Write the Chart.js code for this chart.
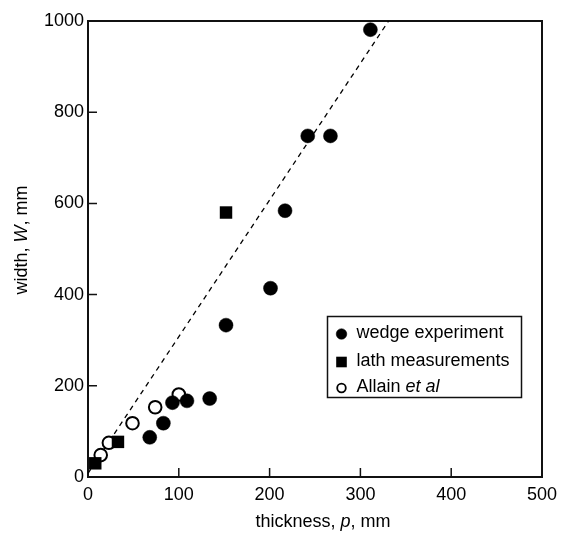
<!DOCTYPE html>
<html>
<head>
<meta charset="utf-8">
<script src="https://cdn.jsdelivr.net/npm/chart.js@4/dist/chart.umd.min.js"></script>
<style>
  html, body { margin: 0; padding: 0; background: #fff; }
  #wrap { width: 562px; height: 534px; }
</style>
</head>
<body>
<div id="wrap"><canvas id="c" width="562" height="534"></canvas></div>
<script>
// Wedge experiment: thickness p (mm) and width W (mm)
const wedgeP = [311, 242, 267, 217, 201, 152, 134, 109, 93, 83, 68];
const wedgeW = [981, 748, 748, 584, 414, 333, 172, 167, 163, 118, 87];

// Lath measurements
const lathP = [152, 33, 8];
const lathW = [580, 77, 30];

// Allain et al
const allainP = [100, 74, 49, 23, 14];
const allainW = [181, 153, 118, 75, 48];

// Dashed trend line W ≈ 3p
const fitP = [0, 331];
const fitW = [8, 1000];

// Axis ticks
const xTicks = [0, 100, 200, 300, 400, 500];
const yTicks = [0, 200, 400, 600, 800, 1000];

// Legend entries, split into [text, italic] runs
const legendLabels = [
  [['wedge experiment', false]],
  [['lath measurements', false]],
  [['Allain ', false], ['et al', true]]
];
const xTitle = [['thickness, ', false], ['p', true], [', mm', false]];
const yTitle = [['width, ', false], ['W', true], [', mm', false]];

const FONT = '"Liberation Sans", Arial, Helvetica, sans-serif';
const pairs = (xs, ys) => xs.map((v, i) => ({ x: v, y: ys[i] }));

function fontStr(size, italic) {
  return (italic ? 'italic ' : '') + size + 'px ' + FONT;
}
function drawRuns(ctx, runs, x, y, size, align) {
  let total = 0;
  const widths = runs.map(([t, it]) => { ctx.font = fontStr(size, it); const w = ctx.measureText(t).width; total += w; return w; });
  let cx = align === 'center' ? x - total / 2 : x;
  ctx.textAlign = 'left';
  runs.forEach(([t, it], i) => { ctx.font = fontStr(size, it); ctx.fillText(t, cx, y); cx += widths[i]; });
}

const decorations = {
  id: 'decorations',
  beforeDatasetsDraw(chart) {
    const { ctx, chartArea: a, scales: { x, y } } = chart;
    ctx.save();
    ctx.strokeStyle = '#111';
    ctx.lineWidth = 2;
    // top and right frame
    ctx.beginPath();
    ctx.moveTo(a.left - 1, a.top);
    ctx.lineTo(a.right, a.top);
    ctx.lineTo(a.right, a.bottom);
    ctx.stroke();
    // inward tick marks
    ctx.lineWidth = 1.5;
    ctx.beginPath();
    yTicks.slice(1, -1).forEach(v => { const py = y.getPixelForValue(v); ctx.moveTo(a.left, py); ctx.lineTo(a.left + 9, py); });
    xTicks.slice(1, -1).forEach(v => { const px = x.getPixelForValue(v); ctx.moveTo(px, a.bottom); ctx.lineTo(px, a.bottom - 9); });
    ctx.stroke();
    ctx.restore();
  },
  afterDraw(chart) {
    const { ctx, chartArea: a } = chart;
    ctx.save();
    ctx.fillStyle = '#000';
    ctx.textBaseline = 'middle';
    // axis titles
    drawRuns(ctx, xTitle, (a.left + a.right) / 2 + 8, 522, 18, 'center');
    ctx.save();
    ctx.translate(22, 240);
    ctx.rotate(-Math.PI / 2);
    drawRuns(ctx, yTitle, 0, 0, 18, 'center');
    ctx.restore();

    // legend box
    const bx = 327.5, by = 316.5, bw = 194, bh = 81;
    ctx.strokeStyle = '#111';
    ctx.lineWidth = 1.5;
    ctx.strokeRect(bx, by, bw, bh);
    const rows = [334, 362, 388];
    const mx = 341.5;
    const ds = chart.data.datasets;
    legendLabels.forEach((runs, i) => {
      const d = ds[i];
      const cy = rows[i];
      ctx.beginPath();
      if (d.pointStyle === 'rect') {
        ctx.fillStyle = d.backgroundColor;
        ctx.fillRect(mx - 5.3, cy - 5.3, 10.6, 10.6);
      } else {
        const r = d.backgroundColor === '#fff' ? 4.3 : 5.3;
        ctx.arc(mx, cy, r, 0, Math.PI * 2);
        ctx.fillStyle = d.backgroundColor;
        ctx.fill();
        ctx.lineWidth = d.backgroundColor === '#fff' ? 1.8 : 0.5;
        ctx.strokeStyle = '#000';
        ctx.stroke();
      }
      ctx.fillStyle = '#000';
      drawRuns(ctx, runs, 356.5, cy - 1, 18, 'left');
    });
    ctx.restore();
  }
};

new Chart(document.getElementById('c'), {
  type: 'scatter',
  data: {
    datasets: [
      { label: 'wedge experiment', data: pairs(wedgeP, wedgeW), pointStyle: 'circle', pointRadius: 7,
        backgroundColor: '#000', borderColor: '#000', borderWidth: 0.5, order: 2 },
      { label: 'lath measurements', data: pairs(lathP, lathW), pointStyle: 'rect', pointRadius: 8.8,
        backgroundColor: '#000', borderColor: '#000', borderWidth: 0, order: 1 },
      { label: 'Allain et al', data: pairs(allainP, allainW), pointStyle: 'circle', pointRadius: 6.3,
        backgroundColor: '#fff', borderColor: '#000', borderWidth: 2, order: 3 },
      { label: 'fit', data: pairs(fitP, fitW), showLine: true, pointRadius: 0, borderColor: '#000',
        borderWidth: 1.3, borderDash: [5, 4.5], fill: false, order: 4 }
    ]
  },
  options: {
    responsive: false,
    animation: false,
    events: [],
    layout: { padding: { top: 21, right: 20, left: 0, bottom: 0 } },
    plugins: { legend: { display: false }, tooltip: { enabled: false } },
    scales: {
      x: {
        type: 'linear', min: 0, max: 500,
        afterFit: s => { s.height = 57; s.paddingLeft = 0; s.paddingRight = 0; },
        afterBuildTicks: s => { s.ticks = xTicks.map(v => ({ value: v })); },
        ticks: { padding: 7, color: '#000', font: { family: FONT, size: 18 }, callback: v => String(v) },
        grid: { display: false, drawTicks: false },
        border: { display: true, color: '#111', width: 2 }
      },
      y: {
        type: 'linear', min: 0, max: 1000,
        afterFit: s => { s.width = 88; s.paddingTop = 0; s.paddingBottom = 0; },
        afterBuildTicks: s => { s.ticks = yTicks.map(v => ({ value: v })); },
        ticks: { padding: 4, color: '#000', font: { family: FONT, size: 18 }, callback: v => String(v) },
        grid: { display: false, drawTicks: false },
        border: { display: true, color: '#111', width: 2 }
      }
    }
  },
  plugins: [decorations]
});
</script>
</body>
</html>
